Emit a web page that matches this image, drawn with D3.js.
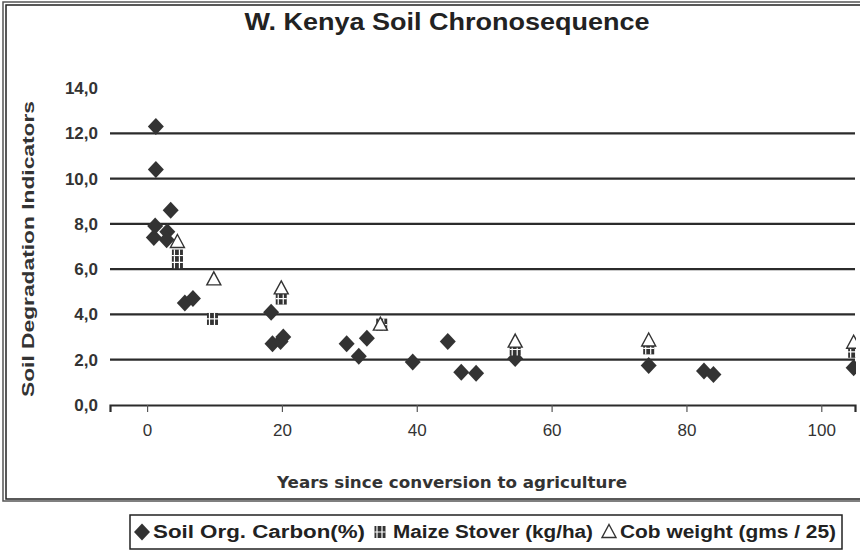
<!DOCTYPE html>
<html>
<head>
<meta charset="utf-8">
<script src="https://cdn.jsdelivr.net/npm/d3@7"></script>
<style>
   body { margin: 0; background: #fff; }
   svg { display: block; }
</style>
</head>
<body>
<div id="chart"></div>
<script>

// SOIL ORGANIC CARBON (%)
var carbonYears  = [1.3, 1.3, 1.0, 1.2, 3.5, 3.0, 2.9, 5.6, 6.8, 18.4, 18.6, 19.8, 20.2, 29.6, 31.4, 32.6, 39.4, 44.6, 46.6, 48.8, 54.6, 74.4, 82.6, 84.0, 104.8];
var carbonValues = [12.3, 10.4, 7.4, 7.9, 8.6, 7.65, 7.3, 4.5, 4.7, 4.1, 2.7, 2.8, 3.0, 2.7, 2.15, 2.95, 1.9, 2.8, 1.45, 1.4, 2.05, 1.75, 1.5, 1.35, 1.65];

// MAIZE STOVER (KG/HA)
var stoverYears  = [4.5, 4.5, 9.7, 19.9, 34.8, 54.6, 74.4, 104.8];
var stoverValues = [6.6, 6.3, 3.8, 4.7, 3.55, 2.45, 2.5, 2.35];

// COB WEIGHT (GMS / 25)
var cobYears  = [4.5, 9.9, 19.9, 34.6, 54.6, 74.4, 104.8];
var cobValues = [7.2, 5.55, 5.15, 3.55, 2.8, 2.85, 2.75];

// AXIS TICKS
var xTicks = [0, 20, 40, 60, 80, 100];
var yTicks = [0, 2, 4, 6, 8, 10, 12, 14];
var yTickLabels = ['0,0', '2,0', '4,0', '6,0', '8,0', '10,0', '12,0', '14,0'];

// TEXTS
var title = 'W. Kenya Soil Chronosequence';
var xTitle = 'Years since conversion to agriculture';
var yTitle = 'Soil Degradation Indicators';
var legendLabels = ['Soil Org. Carbon(%)', 'Maize Stover (kg/ha)', 'Cob weight (gms / 25)'];

// SETTINGS
var settings = {
   width: 860,
   height: 557,
   ink: '#2b2b2b',
   font: 'Liberation Sans Narrow, Liberation Sans, Arial, sans-serif'
};

// CANVAS
var canvas = d3.select('#chart').append('svg')
   .attr('width', settings.width)
   .attr('height', settings.height)
   .style('font-family', settings.font)

// OUTER DOUBLE BORDER
canvas.append('rect')
   .attr('x', 3).attr('y', 2).attr('width', 860).attr('height', 499)
   .attr('fill', 'none').attr('stroke', '#555').attr('stroke-width', 1.5)
canvas.append('rect')
   .attr('x', 6).attr('y', 5).attr('width', 860).attr('height', 494)
   .attr('fill', 'none').attr('stroke', '#222').attr('stroke-width', 1.5)

// SCALES
var xScale = d3.scaleLinear().domain([-5.5, 105]).range([110, 855]);
var yScale = d3.scaleLinear().domain([0, 14]).range([405, 88]);

// GRIDLINES (NO LINE AT THE TOP VALUE)
canvas.append('g')
   .selectAll('line')
   .data(yTicks.filter(d => d > 0 && d < 14))
      .enter().append('line')
         .attr('x1', 110).attr('x2', 855)
         .attr('y1', d => yScale(d)).attr('y2', d => yScale(d))
         .attr('stroke', settings.ink).attr('stroke-width', 2.2)

// X-AXIS
var xAxis = d3.axisBottom(xScale)
   .tickValues(xTicks)
   .tickSize(7)
   .tickPadding(12)

var gx = canvas.append('g')
   .attr('transform', 'translate(0,' + yScale(0) + ')')
   .call(xAxis)

gx.select('.domain').attr('stroke', settings.ink).attr('stroke-width', 2.2)
gx.selectAll('.tick line').attr('stroke', '#555').attr('stroke-width', 1.2)
gx.selectAll('.tick text')
   .attr('fill', '#333')
   .style('font-size', '17px')
   .style('font-family', 'Liberation Sans, Arial, sans-serif')

// Y-AXIS LABELS
canvas.append('g')
   .selectAll('text')
   .data(yTicks)
      .enter().append('text')
         .attr('x', 98)
         .attr('y', d => yScale(d))
         .attr('dy', '0.35em')
         .attr('text-anchor', 'end')
         .attr('fill', '#333')
         .style('font-size', '17px')
         .style('font-weight', 'bold')
         .text((d, i) => yTickLabels[i])

// CLIP FOR THE MARKERS
canvas.append('clipPath').attr('id', 'plot')
   .append('rect').attr('x', 100).attr('y', 60).attr('width', 756).attr('height', 360)

var marks = canvas.append('g').attr('clip-path', 'url(#plot)');

// MARKER SHAPES
function diamond(g) {
   g.append('path')
      .attr('d', 'M0,-8.5L8,0L0,8.5L-8,0Z')
      .attr('fill', '#333')
}
function square(g) {
   g.append('rect')
      .attr('x', -5.5).attr('y', -6).attr('width', 11).attr('height', 12)
      .attr('fill', '#333')
   g.append('path')
      .attr('d', 'M-3,-6V6M2,-6V6M-5.5,0H5.5')
      .attr('stroke', '#fff').attr('stroke-width', 1.2)
}
function triangle(g) {
   g.append('path')
      .attr('d', 'M0,-7.5L7,5.5L-7,5.5Z')
      .attr('fill', '#fff').attr('stroke', '#333').attr('stroke-width', 1.4)
}

// DRAW A SERIES
function series(years, values, shape) {
   marks.append('g')
      .selectAll('g')
      .data(values)
         .enter().append('g')
            .attr('transform', (d, i) => 'translate(' + xScale(years[i]) + ',' + yScale(d) + ')')
            .each(function() { shape(d3.select(this)) })
}

series(carbonYears, carbonValues, diamond);
series(stoverYears, stoverValues, square);
series(cobYears, cobValues, triangle);

// TITLE
canvas.append('text')
   .attr('x', 447).attr('y', 30)
   .attr('text-anchor', 'middle')
   .attr('fill', '#222')
   .style('font-size', '23px')
   .style('font-weight', 'bold')
   .attr('textLength', 405).attr('lengthAdjust', 'spacingAndGlyphs')
   .text(title)

// X TITLE
canvas.append('text')
   .attr('x', 452).attr('y', 488)
   .attr('text-anchor', 'middle')
   .attr('fill', '#333')
   .style('font-size', '16px')
   .style('font-weight', 'bold')
   .style('font-family', 'DejaVu Sans, sans-serif')
   .attr('textLength', 350).attr('lengthAdjust', 'spacingAndGlyphs')
   .text(xTitle)

// Y TITLE
canvas.append('text')
   .attr('transform', 'translate(34,249) rotate(-90)')
   .attr('text-anchor', 'middle')
   .attr('fill', '#333')
   .style('font-size', '17px')
   .style('font-weight', 'bold')
   .attr('textLength', 296).attr('lengthAdjust', 'spacingAndGlyphs')
   .text(yTitle)

// LEGEND BOX
var legend = canvas.append('g');

legend.append('rect')
   .attr('x', 130).attr('y', 515).attr('width', 712).attr('height', 34)
   .attr('fill', '#fff').attr('stroke', '#222').attr('stroke-width', 1.5)

// LEGEND ITEMS -- SYMBOL X, TEXT X, TEXT WIDTH
var legendShapes = [diamond, square, triangle];
var legendLayout = [[142, 153, 212], [380, 393, 200], [609, 620, 216]];

legendLabels.forEach((label, i) => {
   var item = legend.append('g');
   item.append('g')
      .attr('transform', 'translate(' + legendLayout[i][0] + ',532)')
      .each(function() { legendShapes[i](d3.select(this)) })
   item.append('text')
      .attr('x', legendLayout[i][1]).attr('y', 538)
      .attr('fill', '#222')
      .style('font-size', '18px')
      .style('font-weight', 'bold')
      .attr('textLength', legendLayout[i][2]).attr('lengthAdjust', 'spacingAndGlyphs')
      .text(label)
});

</script>
</body>
</html>
